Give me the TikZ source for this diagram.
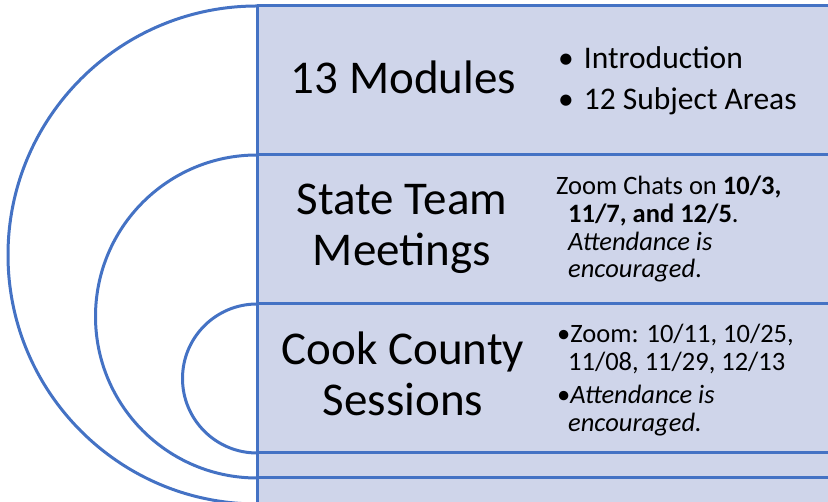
\documentclass[tikz,border=0pt]{standalone}
\usepackage{fontspec}
\setmainfont{Carlito}
\definecolor{bandblue}{HTML}{CFD5EA}
\definecolor{lineblue}{HTML}{4472C4}
\tikzset{
  rim/.style={draw=lineblue, line width=3pt},
  title/.style={inner sep=0pt, anchor=base, align=center, font=\fontsize{47}{51}\selectfont},
  body/.style={inner sep=0pt, anchor=base west, align=left},
}
\begin{document}
\begin{tikzpicture}[x=1pt,y=1pt]
			\def\xv{257} \def\xmax{828} \def\ytop{496} \def\ybot{-4}
			\useasboundingbox (0,0) rectangle (\xmax,502);
			\fill[bandblue] (\xv,\ybot) rectangle (\xmax,\ytop);
			% nested half rings
			\draw[rim] (\xv,\ytop) arc[start angle=90, end angle=270, radius=249];
			\draw[rim] (\xv,347) arc[start angle=90, end angle=270, radius=161.5];
			\draw[rim] (\xv,198) arc[start angle=90, end angle=270, radius=74.5];
			\foreach \y in {\ytop,347,198,49,24,\ybot}
				\draw[rim] (\xv,\y)--(\xmax,\y);
			\draw[rim] (\xv,\ybot)--(\xv,\ytop);
			% titles (base = last line)
			\node[title] (modules) at (403.5,408) {13 Modules};
			\node[title] (state) at (402,236) {State Team\\Meetings};
			\node[title] (cook) at (403,86) {Cook County\\Sessions};
			% details
			\node[body, font=\fontsize{31.5}{41}\selectfont] (modlist) at (558,392)
				{\textbullet\hspace{10pt}Introduction\\\textbullet\hspace{10pt}12 Subject Areas};
			\node[body, font=\fontsize{26.5}{27.7}\selectfont] (statetxt) at (556,224)
				{Zoom Chats on \textbf{10/3,}\\\hspace*{12pt}\textbf{11/7, and 12/5}.\\\hspace*{12pt}\textit{Attendance is}\\\hspace*{12pt}\textit{encouraged}.};
			\node[body, font=\fontsize{26.5}{28}\selectfont] (cooktxt) at (557,70)
				{\textbullet Zoom: 10/11, 10/25,\\\hspace*{11pt}11/08, 11/29, 12/13\\[5pt]\textbullet\textit{Attendance is}\\\hspace*{11pt}\textit{encouraged.}};
		\end{tikzpicture}
\end{document}
